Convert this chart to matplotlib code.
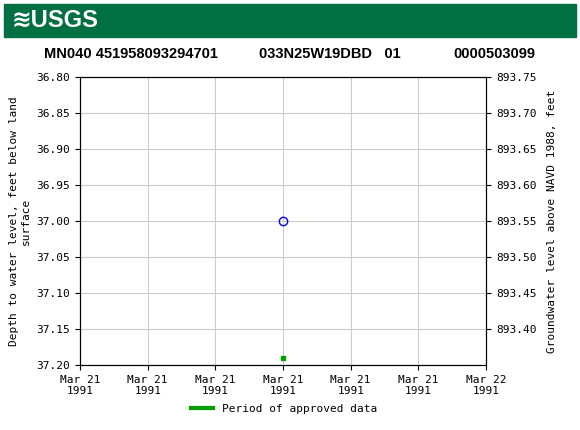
import matplotlib
matplotlib.use("Agg")
import matplotlib.pyplot as plt
from datetime import datetime, timedelta
from matplotlib.lines import Line2D

point_time = [datetime(1991, 3, 21, 12)]
depth = [37.00]
approved_depth = [37.19]
xtick_labels = ["Mar 21\n1991"] * 6 + ["Mar 22\n1991"]
left_ticks = [36.80, 36.85, 36.90, 36.95, 37.00, 37.05, 37.10, 37.15, 37.20]
right_ticks = [893.40, 893.45, 893.50, 893.55, 893.60, 893.65, 893.70, 893.75]
datum_offset = 930.55

fig = plt.figure(figsize=(5.8, 4.3), dpi=100)
mono = "DejaVu Sans Mono"

fig.patches.append(plt.Rectangle((0.007, 0.915), 0.986, 0.075, transform=fig.transFigure,
                                 color="#006f41", zorder=0))
fig.text(0.02, 0.952, "≋USGS", color="white", fontsize=17, fontweight="bold",
         va="center", family=["Liberation Sans", "DejaVu Sans"])
for x, s in [(0.075, "MN040 451958093294701"), (0.447, "033N25W19DBD   01"),
             (0.782, "0000503099")]:
    fig.text(x, 0.875, s, fontsize=10.5, fontweight="bold",
             family="Liberation Sans", va="center")

ax = fig.add_axes([0.138, 0.151, 0.7, 0.67])
start = datetime(1991, 3, 21)
ticks = [start + timedelta(hours=4 * i) for i in range(7)]
ax.set_xlim(ticks[0], ticks[-1])
ax.set_xticks(ticks)
ax.set_xticklabels(xtick_labels, family=mono, fontsize=8)
ax.set_ylim(37.20, 36.80)
ax.set_yticks(left_ticks)
ax.set_yticklabels([f"{v:.2f}" for v in left_ticks], family=mono, fontsize=8)
ax.grid(True, color="#cccccc", linewidth=0.8)
ax.plot(point_time, depth, "o", mfc="none", mec="blue", ms=6)
ax.plot(point_time, approved_depth, "s", color="#00a000", ms=3)
ax.set_ylabel("Depth to water level, feet below land\nsurface", family=mono, fontsize=8)

ax2 = ax.twinx()
ax2.set_ylim(datum_offset - 37.20, datum_offset - 36.80)
ax2.set_yticks(right_ticks)
ax2.set_yticklabels([f"{v:.2f}" for v in right_ticks], family=mono, fontsize=8)
ax2.set_ylabel("Groundwater level above NAVD 1988, feet", family=mono, fontsize=8, labelpad=8)

fig.legend([Line2D([], [], color="#00a000", lw=3)], ["Period of approved data"],
           loc="center", bbox_to_anchor=(0.49, 0.048), frameon=False,
           prop={"family": mono, "size": 8})
fig.savefig("out.png", dpi=100)
